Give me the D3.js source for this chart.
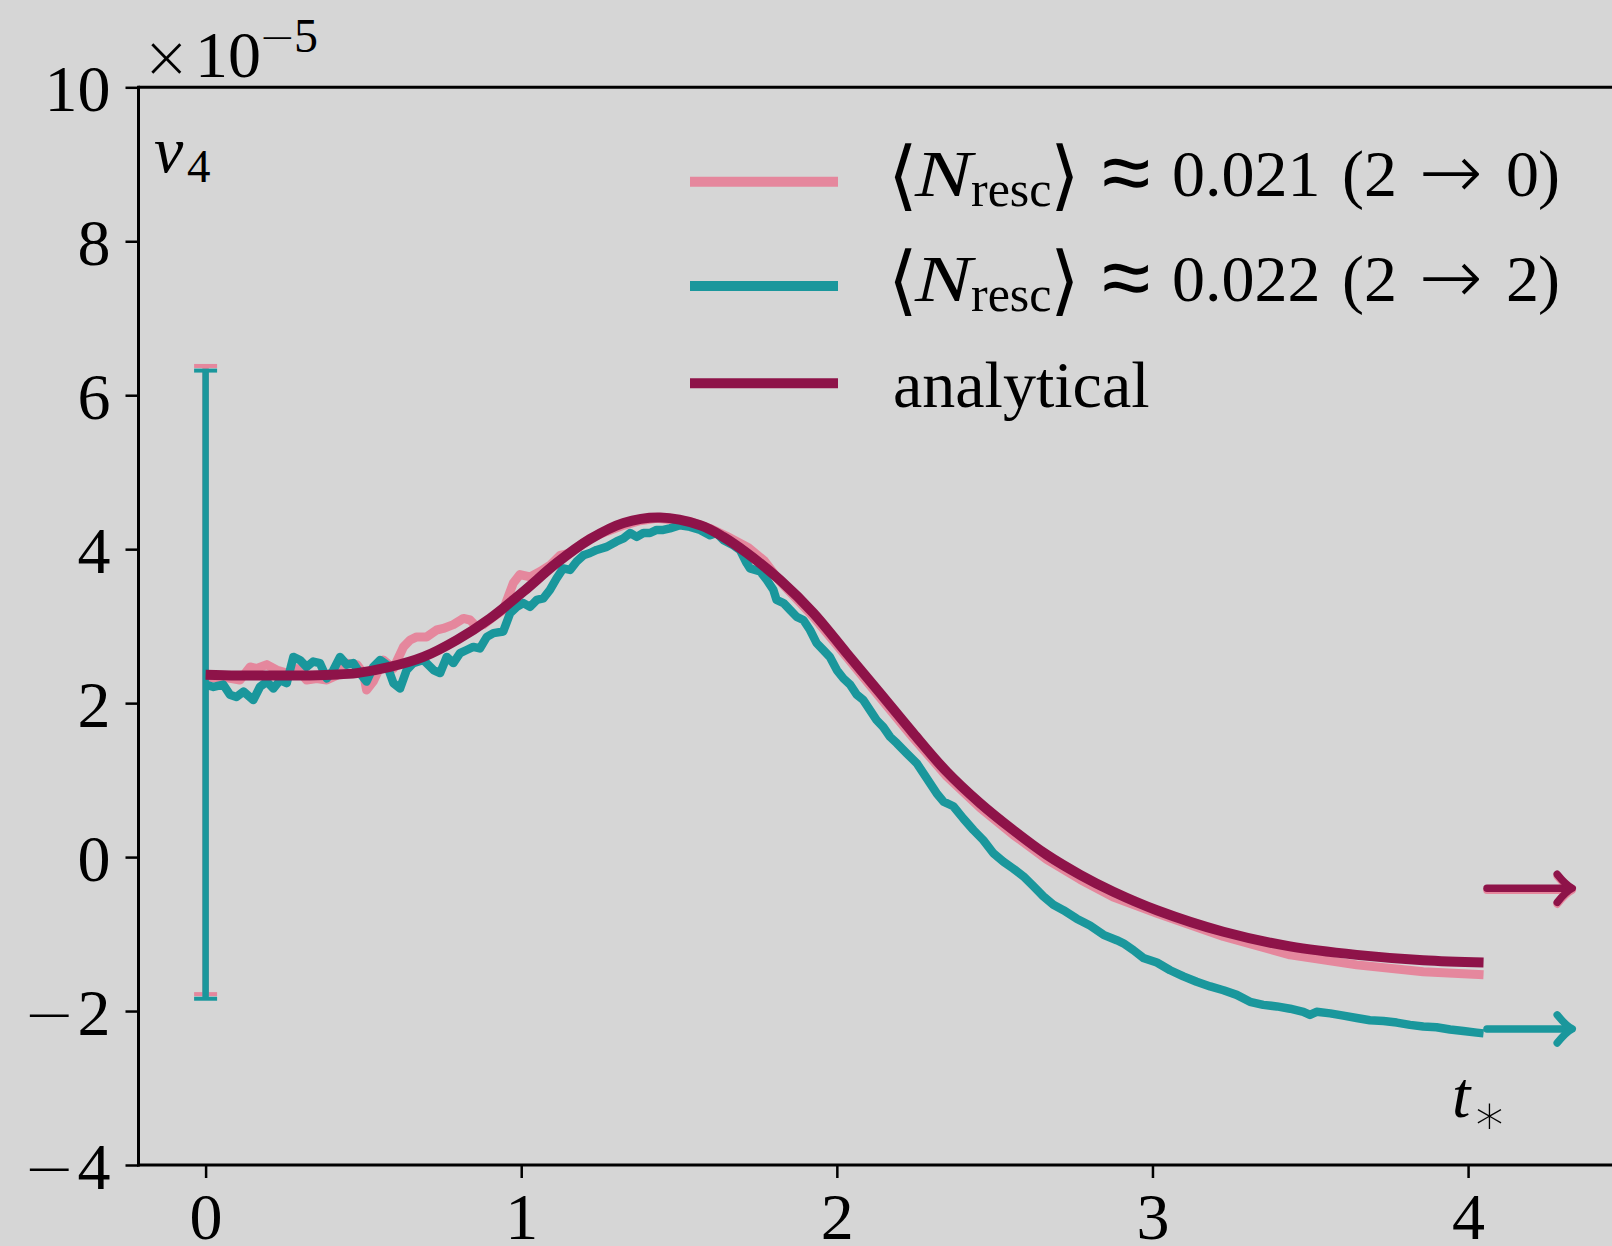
<!DOCTYPE html>
<html><head><meta charset="utf-8">
<script src="https://cdn.jsdelivr.net/npm/d3@7"></script>
<style>body{margin:0;background:#d6d6d6;} svg{display:block;}</style>
</head><body><svg id="c" width="1612" height="1246"></svg>
<script>
// ---------------- data ----------------
const xTicks = [0, 1, 2, 3, 4];
const yTicks = [-4, -2, 0, 2, 4, 6, 8, 10];
const yTickLabels = ["\u22124", "\u22122", "0", "2", "4", "6", "8", "10"];

const analytical = [[0,2.37],[0.1,2.36],[0.2,2.36],[0.3,2.36],[0.4,2.37],[0.479,2.39],[0.584,2.47],[0.69,2.60],[0.796,2.82],[0.901,3.10],[1.007,3.45],[1.112,3.82],[1.218,4.13],[1.324,4.34],[1.44,4.41],[1.567,4.31],[1.64,4.16],[1.715,3.95],[1.82,3.60],[1.926,3.17],[2.031,2.65],[2.137,2.13],[2.242,1.61],[2.348,1.11],[2.454,0.70],[2.559,0.35],[2.665,0.03],[2.771,-0.23],[2.876,-0.45],[3.014,-0.69],[3.225,-0.97],[3.436,-1.16],[3.647,-1.27],[3.858,-1.34],[4.049,-1.37]];

const resc20 = [[0,2.32],[0.056,2.34],[0.109,2.30],[0.141,2.47],[0.162,2.45],[0.194,2.50],[0.225,2.43],[0.257,2.39],[0.289,2.45],[0.320,2.30],[0.352,2.32],[0.384,2.30],[0.415,2.36],[0.447,2.52],[0.479,2.50],[0.500,2.39],[0.510,2.17],[0.531,2.28],[0.563,2.56],[0.595,2.45],[0.627,2.73],[0.648,2.82],[0.669,2.86],[0.700,2.86],[0.732,2.95],[0.753,2.97],[0.785,3.02],[0.817,3.10],[0.838,3.08],[0.859,2.99],[0.880,3.02],[0.912,3.12],[0.943,3.21],[0.975,3.56],[0.996,3.67],[1.028,3.64],[1.060,3.71],[1.091,3.79],[1.123,3.92],[1.155,3.95],[1.186,4.05],[1.218,4.14],[1.271,4.23],[1.324,4.31],[1.376,4.37],[1.429,4.40],[1.482,4.38],[1.535,4.36],[1.598,4.27],[1.65,4.17],[1.72,4.02],[1.77,3.85],[1.82,3.58],[1.926,3.12],[2.031,2.60],[2.137,2.07],[2.242,1.55],[2.348,1.05],[2.454,0.64],[2.559,0.29],[2.665,-0.03],[2.771,-0.29],[2.876,-0.52],[3.014,-0.73],[3.225,-1.03],[3.436,-1.27],[3.647,-1.40],[3.858,-1.49],[4.049,-1.53]];

const resc22 = [[0,2.24],[0.025,2.21],[0.056,2.24],[0.077,2.11],[0.098,2.08],[0.120,2.15],[0.151,2.04],[0.172,2.21],[0.194,2.28],[0.215,2.19],[0.236,2.30],[0.257,2.26],[0.278,2.60],[0.299,2.56],[0.320,2.47],[0.341,2.54],[0.362,2.52],[0.384,2.32],[0.405,2.43],[0.426,2.60],[0.447,2.50],[0.468,2.52],[0.489,2.39],[0.510,2.28],[0.531,2.47],[0.553,2.56],[0.574,2.50],[0.595,2.26],[0.616,2.19],[0.637,2.43],[0.658,2.52],[0.690,2.56],[0.722,2.43],[0.743,2.39],[0.764,2.60],[0.785,2.52],[0.806,2.65],[0.827,2.69],[0.848,2.73],[0.869,2.71],[0.891,2.86],[0.912,2.91],[0.943,2.93],[0.965,3.17],[0.986,3.25],[1.007,3.30],[1.028,3.25],[1.049,3.34],[1.070,3.36],[1.091,3.47],[1.112,3.62],[1.133,3.75],[1.155,3.73],[1.176,3.84],[1.197,3.92],[1.218,3.95],[1.239,3.99],[1.271,4.03],[1.302,4.10],[1.324,4.14],[1.345,4.21],[1.366,4.16],[1.387,4.21],[1.408,4.21],[1.429,4.25],[1.450,4.25],[1.471,4.27],[1.503,4.31],[1.535,4.29],[1.567,4.25],[1.598,4.18],[1.619,4.21],[1.640,4.12],[1.672,4.05],[1.693,3.99],[1.714,3.82],[1.725,3.75],[1.757,3.71],[1.778,3.60],[1.799,3.47],[1.809,3.34],[1.831,3.30],[1.852,3.21],[1.873,3.12],[1.894,3.08],[1.915,2.95],[1.936,2.78],[1.957,2.69],[1.978,2.60],[2.000,2.43],[2.021,2.32],[2.042,2.24],[2.063,2.11],[2.084,2.04],[2.105,1.91],[2.126,1.78],[2.147,1.69],[2.169,1.56],[2.190,1.48],[2.221,1.35],[2.253,1.22],[2.274,1.09],[2.295,0.96],[2.316,0.83],[2.338,0.72],[2.369,0.66],[2.401,0.50],[2.433,0.35],[2.464,0.22],[2.496,0.05],[2.528,-0.06],[2.559,-0.15],[2.591,-0.25],[2.623,-0.38],[2.654,-0.51],[2.686,-0.62],[2.718,-0.69],[2.760,-0.80],[2.802,-0.89],[2.845,-1.01],[2.887,-1.08],[2.908,-1.12],[2.940,-1.21],[2.971,-1.31],[3.014,-1.37],[3.056,-1.47],[3.098,-1.55],[3.140,-1.62],[3.183,-1.68],[3.225,-1.73],[3.267,-1.79],[3.309,-1.88],[3.351,-1.92],[3.394,-1.94],[3.436,-1.97],[3.478,-2.01],[3.499,-2.05],[3.520,-2.01],[3.563,-2.03],[3.605,-2.06],[3.647,-2.09],[3.689,-2.12],[3.732,-2.13],[3.774,-2.15],[3.816,-2.18],[3.858,-2.20],[3.900,-2.21],[3.943,-2.24],[3.985,-2.26],[4.027,-2.28],[4.049,-2.29]];

// error bars at t = 0: [t, centre, low, high]
const errResc20 = [0, 2.30, -1.78, 6.38];
const errResc22 = [0, 2.24, -1.84, 6.32];

// asymptotic values (arrows)
const arrowT = [4.06, 4.33];
const asymResc20 = -0.43;
const asymAnalytical = -0.405;
const asymResc22 = -2.233;

const legendLabels = [
  {num: "0.021", to: "0"},
  {num: "0.022", to: "2"},
];

// ---------------- styles ----------------
const PINK = "#e5879d", TEAL = "#1a979c", MAROON = "#8e1349";
const FONT = "'Liberation Serif', 'DejaVu Serif', serif";
const SYM = "'DejaVu Sans', sans-serif";

const svg = d3.select("#c");
const W = 1612, H = 1246;
const x = d3.scaleLinear().domain([-0.2126, 4.456]).range([138.5, 1612]);
const y = d3.scaleLinear().domain([-4, 10]).range([1165, 87.3]);

svg.append("rect").attr("width", W).attr("height", H).attr("fill", "#d6d6d6");

// ---------------- data marks ----------------
const line = d3.line().x(d => x(d[0])).y(d => y(d[1]));
const smooth = d3.line().x(d => x(d[0])).y(d => y(d[1])).curve(d3.curveCatmullRom);

function errbar(e, color) {
  const g = svg.append("g").attr("stroke", color);
  g.append("line").attr("x1", x(e[0])).attr("x2", x(e[0]))
    .attr("y1", y(e[2])).attr("y2", y(e[3])).attr("stroke-width", 6.5);
  [e[2], e[3]].forEach(v => {
    g.append("line").attr("x1", x(e[0]) - 11.5).attr("x2", x(e[0]) + 11.5)
      .attr("y1", y(v)).attr("y2", y(v)).attr("stroke-width", 4);
  });
}

svg.append("path").datum(resc20).attr("d", line).attr("fill", "none")
  .attr("stroke", PINK).attr("stroke-width", 9).attr("stroke-linejoin", "round");
errbar(errResc20, PINK);
svg.append("path").datum(resc22).attr("d", line).attr("fill", "none")
  .attr("stroke", TEAL).attr("stroke-width", 8.5).attr("stroke-linejoin", "round");
errbar(errResc22, TEAL);
svg.append("path").datum(analytical).attr("d", smooth).attr("fill", "none")
  .attr("stroke", MAROON).attr("stroke-width", 10);

function arrow(v, color) {
  const x0 = x(arrowT[0]), x1 = x(arrowT[1]), yy = y(v);
  const g = svg.append("g").attr("stroke", color).attr("fill", "none")
    .attr("stroke-width", 7.5).attr("stroke-linecap", "round").attr("stroke-linejoin", "round");
  g.append("line").attr("x1", x0).attr("x2", x1 - 2).attr("y1", yy).attr("y2", yy);
  g.append("path").attr("d",
    `M${x1 - 15},${yy - 14} Q${x1 - 6},${yy - 3} ${x1},${yy} Q${x1 - 6},${yy + 3} ${x1 - 15},${yy + 14}`);
}
arrow(asymResc20, PINK);
arrow(asymAnalytical, MAROON);
arrow(asymResc22, TEAL);

// ---------------- axes ----------------
const axisG = svg.append("g");
axisG.append("line").attr("x1", x(-0.2126)).attr("x2", W).attr("y1", y(10)).attr("y2", y(10))
  .attr("stroke", "#000").attr("stroke-width", 3);
axisG.append("line").attr("x1", x(-0.2126) - 1.5).attr("x2", W).attr("y1", y(-4)).attr("y2", y(-4))
  .attr("stroke", "#000").attr("stroke-width", 3);
axisG.append("line").attr("x1", x(-0.2126)).attr("x2", x(-0.2126)).attr("y1", y(10) - 1.5).attr("y2", y(-4) + 1.5)
  .attr("stroke", "#000").attr("stroke-width", 3);

const yAxis = d3.axisLeft(y).tickValues(yTicks).tickSize(13).tickFormat(() => "");
const yg = svg.append("g").attr("transform", `translate(${x(-0.2126)},0)`).call(yAxis);
yg.select(".domain").remove();
yg.selectAll(".tick line").attr("stroke", "#000").attr("stroke-width", 2.5);
yg.selectAll(".tick text").remove();
yTicks.forEach((t, i) => {
  const lab = yTickLabels[i];
  const tx = svg.append("text").attr("x", x(-0.2126) - 28).attr("y", y(t) + 24)
    .attr("text-anchor", "end").attr("font-family", FONT).attr("font-size", 66).attr("fill", "#000");
  if (lab.startsWith("\u2212")) {
    tx.append("tspan").attr("font-family", SYM).attr("font-size", 62).attr("font-weight", 300).text("\u2212");
    tx.append("tspan").attr("dx", 2).text(lab.slice(1));
  } else {
    tx.text(lab);
  }
});

const xAxis = d3.axisBottom(x).tickValues(xTicks).tickSize(13).tickFormat(d3.format("d"));
const xg = svg.append("g").attr("transform", `translate(0,${y(-4)})`).call(xAxis);
xg.select(".domain").remove();
xg.selectAll(".tick line").attr("stroke", "#000").attr("stroke-width", 2.5);
xg.selectAll(".tick text").attr("font-family", FONT).attr("font-size", 66)
  .attr("fill", "#000").attr("dy", null).attr("y", 74);

// ---------------- annotations ----------------
function txt(s, px, py, size, opts = {}) {
  const t = svg.append("text").attr("x", px).attr("y", py).attr("font-family", opts.family || FONT)
    .attr("font-size", size).attr("font-style", opts.italic ? "italic" : "normal")
    .attr("text-anchor", opts.anchor || "start").attr("fill", "#000").text(s);
  if (opts.weight) t.attr("font-weight", opts.weight);
  if (opts.len) t.attr("textLength", opts.len).attr("lengthAdjust", "spacingAndGlyphs");
  return t;
}
// offset factor
txt("\u00d7", 142, 77, 58, {family: SYM, weight: 300});
txt("10", 195, 77, 66);
txt("\u2212", 259, 52, 44, {family: SYM, weight: 300});
txt("5", 294, 52, 48);
// v4
txt("v", 154, 172, 66, {italic: true});
txt("4", 187, 182, 47);
// t*
txt("t", 1452, 1117, 66, {italic: true});
txt("\u2217", 1472, 1134, 56, {family: SYM, weight: 300});

// ---------------- legend ----------------
const legendColors = [PINK, TEAL, MAROON];
const handleY = [181.7, 286, 383.3];
const baseY = [196, 301, 407];
legendColors.forEach((c, i) => {
  svg.append("line").attr("x1", 690).attr("x2", 838).attr("y1", handleY[i]).attr("y2", handleY[i])
    .attr("stroke", c).attr("stroke-width", 10);
});
legendLabels.forEach((L, i) => {
  const b = baseY[i];
  txt("\u27e8", 888, b + 5, 76, {family: SYM, weight: 300});
  txt("N", 915, b, 66, {italic: true, len: 57});
  txt("resc", 971, b + 10, 50);
  txt("\u27e9", 1050, b + 5, 76, {family: SYM, weight: 300});
  txt("\u2248", 1102, b + 6, 88, {family: SYM, weight: 300});
  txt(L.num, 1172, b, 66);
  txt("(", 1342, b, 66);
  txt("2", 1364, b, 66);
  txt("\u2192", 1419, b + 2, 76, {family: SYM, weight: 200});
  txt(L.to, 1506, b, 66);
  txt(")", 1538, b, 66);
});
txt("analytical", 893, 407, 66);
</script>
</body></html>
